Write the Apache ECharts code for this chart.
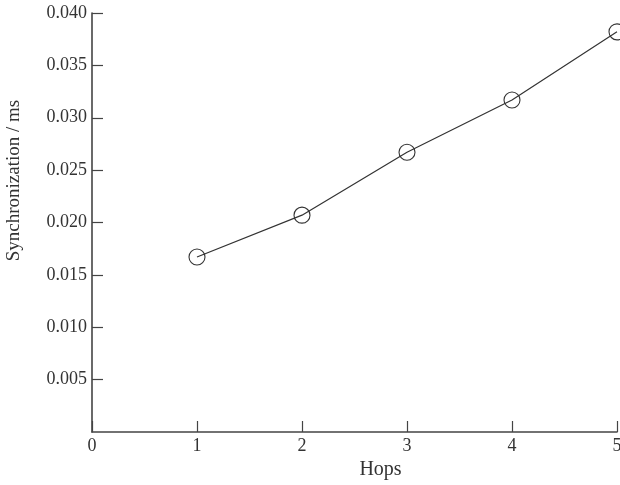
<!DOCTYPE html>
<html><head><meta charset="utf-8">
<script src="https://cdn.jsdelivr.net/npm/echarts@6/dist/echarts.min.js"></script>
<style>html,body{margin:0;padding:0;background:#fff}#c{width:620px;height:485px}</style>
</head><body><div id="c"></div>
<script>
var hops = [1, 2, 3, 4, 5];
var sync = [0.0167, 0.0207, 0.0267, 0.0317, 0.0382];
var xTicks = [0, 1, 2, 3, 4, 5];
var yTicks = [0.005, 0.010, 0.015, 0.020, 0.025, 0.030, 0.035, 0.040];

var chart = echarts.init(document.getElementById('c'));
var font = 'Liberation Serif';
chart.setOption({
  animation: false,
  grid: {left: 92, right: 3, top: 13, bottom: 53, containLabel: false, outerBoundsMode: 'none'},
  xAxis: {
    type: 'value', min: 0, max: 5, interval: 1,
    name: 'Hops', nameLocation: 'middle', nameGap: 27,
    nameTextStyle: {fontFamily: font, fontSize: 20, color: '#333', padding: [0, 0, 0, 52]},
    axisLine: {lineStyle: {color: '#444', width: 1.6}},
    axisTick: {inside: true, length: 11, lineStyle: {color: '#444', width: 1.2}},
    axisLabel: {fontFamily: font, fontSize: 18, color: '#333', margin: 5,
      formatter: function (v) { return xTicks.indexOf(v) >= 0 ? String(v) : ''; }},
    splitLine: {show: false}
  },
  yAxis: {
    type: 'value', min: 0, max: 0.04, interval: 0.005,
    name: 'Synchronization / ms', nameLocation: 'middle', nameGap: 68,
    nameTextStyle: {fontFamily: font, fontSize: 19, color: '#333', padding: [0, 0, 0, 84]},
    axisLine: {show: true, lineStyle: {color: '#444', width: 1.6}},
    axisTick: {inside: true, length: 11, lineStyle: {color: '#444', width: 1.2}},
    axisLabel: {fontFamily: font, fontSize: 18, color: '#333', margin: 5,
      showMinLabel: false,
      formatter: function (v) {
        for (var i = 0; i < yTicks.length; i++) if (Math.abs(yTicks[i] - v) < 1e-9) return yTicks[i].toFixed(3);
        return '';
      }},
    splitLine: {show: false}
  },
  series: [{
    type: 'line',
    data: hops.map(function (h, i) { return [h, sync[i]]; }),
    symbol: 'circle', symbolSize: 16,
    clip: false,
    lineStyle: {color: '#333', width: 1.2},
    itemStyle: {color: 'rgba(0,0,0,0)', borderColor: '#333', borderWidth: 1.1}
  }]
});
</script></body></html>
